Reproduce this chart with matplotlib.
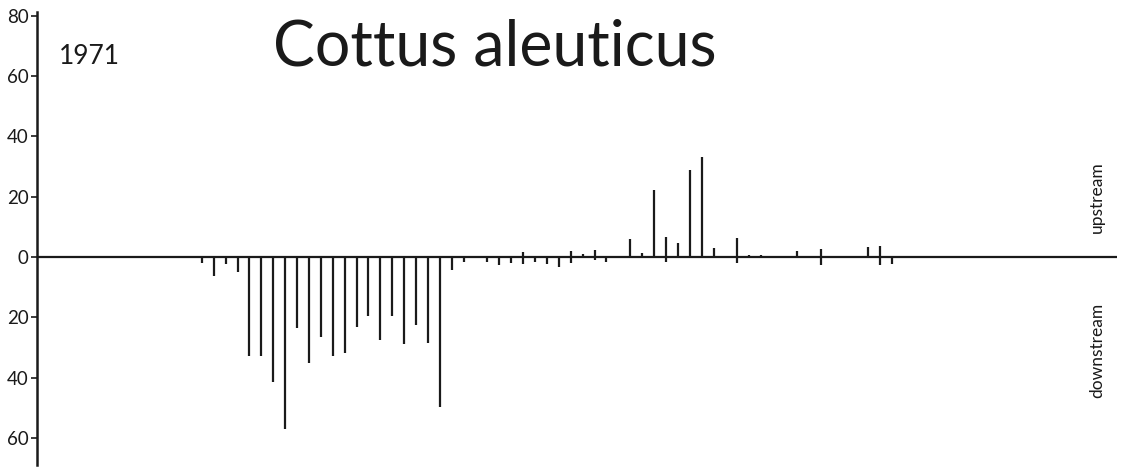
import matplotlib

matplotlib.use("Agg")
import matplotlib.pyplot as plt

# station index along the stream, counts moving upstream (+) and downstream (-)
up_positions = [27, 31, 32, 33, 36, 37, 38, 39, 40, 41, 42, 43, 45, 46, 47, 50, 52, 56, 57]
up_counts = [1.7, 2.0, 1.1, 2.4, 5.9, 1.4, 22.4, 6.7, 4.8, 28.9, 33.3, 3.0, 6.2, 0.7, 0.7, 1.9, 2.8, 3.2, 3.6]

down_positions = [0, 1, 2, 3, 4, 5, 6, 7, 8, 9, 10, 11, 12, 13, 14, 15, 16, 17, 18, 19,
                  20, 21, 22, 24, 25, 26, 27, 28, 29, 30, 31, 33, 34, 39, 45, 52, 57, 58]
down_counts = [2.0, 6.3, 2.3, 5.0, 33.0, 33.0, 41.5, 57.0, 23.7, 35.0, 26.5, 33.0, 32.0, 23.3,
               19.7, 27.4, 19.7, 28.8, 22.7, 28.4, 49.7, 4.2, 1.8, 1.5, 2.5, 2.1, 2.2, 1.7, 2.2,
               3.3, 1.9, 0.9, 1.8, 1.7, 2.0, 2.6, 2.6, 2.2]

y_ticks = [80, 60, 40, 20, 0, -20, -40, -60]
y_tick_labels = ["80", "60", "40", "20", "0", "20", "40", "60"]

year_label = "1971"
species = "Cottus aleuticus"

ink = "#1a1a1a"
plt.rcParams["font.family"] = ["Lato", "DejaVu Sans"]

fig = plt.figure(figsize=(11.23, 4.67), dpi=100)
ax = fig.add_axes([37 / 1123, 2 / 467, 1080 / 1123, 453 / 467])

ax.vlines(up_positions, 0, up_counts, color=ink, lw=1.6)
ax.vlines(down_positions, 0, [-v for v in down_counts], color=ink, lw=1.6)
ax.axhline(0, color=ink, lw=1.6)

ax.set_xlim(-13.85, 76.9)
ax.set_ylim(-69, 81.3)

for side in ["top", "right", "bottom"]:
    ax.spines[side].set_visible(False)
ax.spines["left"].set_color(ink)
ax.spines["left"].set_linewidth(1.8)

ax.set_xticks([])
ax.set_yticks(y_ticks)
ax.set_yticklabels(y_tick_labels)
ax.tick_params(axis="y", direction="out", length=4, width=1.2, color=ink,
               labelcolor=ink, labelsize=13.5, pad=2)

fig.text(59 / 1123, 1 - 57 / 467, year_label, fontsize=19, color=ink, ha="left", va="center")
fig.text(495 / 1123, 1 - 47 / 467, species, fontsize=45, color=ink, ha="center", va="center")

fig.text(1097 / 1123, 1 - 197 / 467, "upstream", rotation=90, fontsize=12.5, color=ink,
         ha="center", va="center")
fig.text(1097 / 1123, 1 - 350 / 467, "downstream", rotation=90, fontsize=12.5, color=ink,
         ha="center", va="center")

fig.savefig("out.png", dpi=100, facecolor="white")
